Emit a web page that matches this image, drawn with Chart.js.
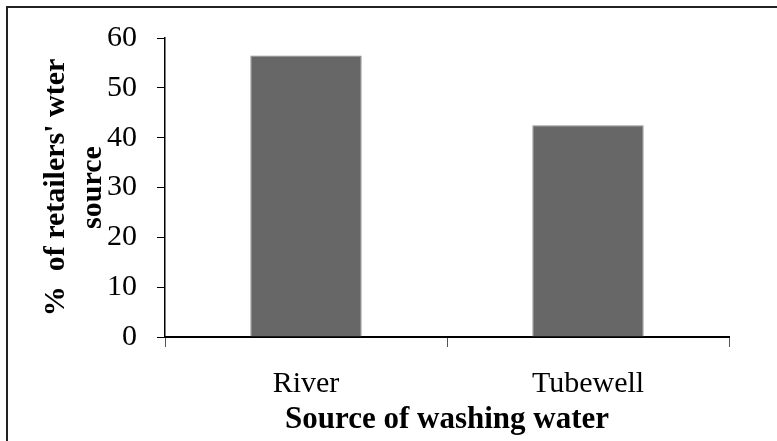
<!DOCTYPE html>
<html>
<head>
<meta charset="utf-8">
<script src="https://cdn.jsdelivr.net/npm/chart.js@4"></script>
<style>
    html, body { margin: 0; padding: 0; background: #fff; }
    #wrap { position: relative; width: 777px; height: 441px; }
    #frame {
        position: absolute; left: 6px; top: 6px; right: -10px; bottom: -10px;
        border-left: 2px solid #222; border-top: 2px solid #222;
        pointer-events: none;
    }
</style>
</head>
<body>
<div id="wrap">
    <canvas id="waterChart" width="777" height="441"></canvas>
    <div id="frame"></div>
</div>
<script>
const categories = ['River', 'Tubewell'];
const retailerShare = [56.5, 42.5];
const yTicks = [0, 10, 20, 30, 40, 50, 60];

const serif = 'Liberation Serif, Times New Roman, serif';

const ctx = document.getElementById('waterChart');

new Chart(ctx, {
    type: 'bar',
    data: {
        labels: categories,
        datasets: [{
            data: retailerShare,
            backgroundColor: '#676767',
            borderColor: '#8c8c8c',
            borderWidth: 1,
            barPercentage: 0.395,
            categoryPercentage: 1
        }]
    },
    options: {
        responsive: false,
        animation: false,
        layout: {
            padding: { top: 38, right: 48, bottom: 0, left: 0 }
        },
        plugins: {
            legend: { display: false },
            tooltip: { enabled: false }
        },
        scales: {
            x: {
                offset: true,
                grid: {
                    offset: true,
                    drawOnChartArea: false,
                    drawTicks: true,
                    tickLength: 10,
                    color: '#555',
                    lineWidth: 1
                },
                border: { display: true, color: '#000', width: 2 },
                ticks: {
                    color: '#000',
                    padding: 19,
                    font: { family: serif, size: 30 }
                },
                title: {
                    display: true,
                    text: 'Source of washing water',
                    color: '#000',
                    padding: { top: 0, bottom: 2 },
                    font: { family: serif, size: 31, weight: 'bold', lineHeight: 1.2 }
                },
                afterFit: (scale) => { scale.height = 104; }
            },
            y: {
                min: 0,
                max: 60,
                afterBuildTicks: (scale) => {
                    scale.ticks = yTicks.map(v => ({ value: v }));
                },
                grid: {
                    drawOnChartArea: false,
                    drawTicks: true,
                    tickLength: 8,
                    color: '#000',
                    lineWidth: 1
                },
                border: { display: true, color: '#000', width: 1.5 },
                ticks: {
                    color: '#000',
                    padding: 20,
                    font: { family: serif, size: 30 }
                },
                title: {
                    display: true,
                    text: ['%  of retailers\' wter', 'source'],
                    color: '#000',
                    padding: { top: 38, bottom: 0 },
                    font: { family: serif, size: 30, weight: 'bold', lineHeight: 37 / 30 }
                },
                afterFit: (scale) => { scale.width = 165; }
            }
        }
    }
});
</script>
</body>
</html>
